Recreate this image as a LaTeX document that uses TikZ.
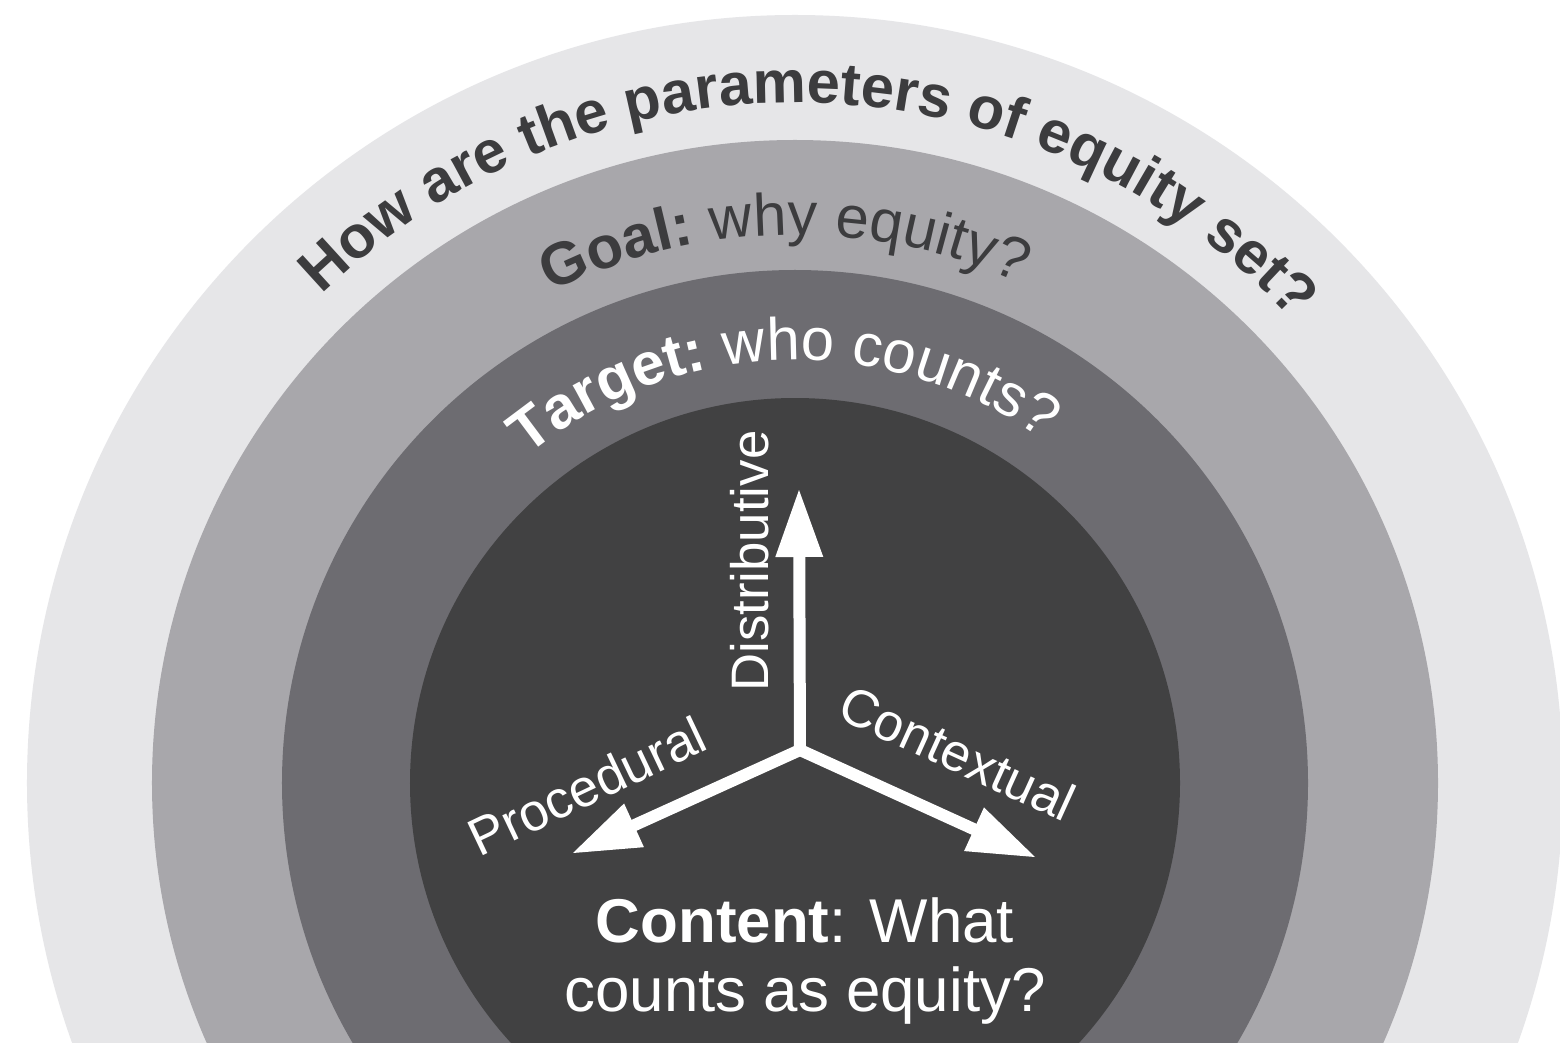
\documentclass[tikz,border=0pt]{standalone}
\usepackage{fontspec}
\setmainfont{Liberation Sans}
\usetikzlibrary{arrows.meta, positioning, decorations.text}
\definecolor{ringout}{HTML}{E6E6E8}
\definecolor{ringgoal}{HTML}{A8A7AB}
\definecolor{ringtarget}{HTML}{6D6C71}
\definecolor{ringcore}{HTML}{414142}
\definecolor{inkdark}{HTML}{3C3C3E}

\begin{document}
\begin{tikzpicture}[
  ring/.style={circle,draw=none,inner sep=0pt,outer sep=0pt},
  axis/.style={color=white,line width=0.12cm,line cap=round,-{Triangle[length=0.67cm,width=0.48cm,line width=0pt,fill=white]}},
  axislabel/.style={text=white,inner sep=0pt,font=\fontsize{15}{18}\selectfont},
  arctext/.style={decorate,decoration={text along path,text align=center,text color=#1}}
]
\useasboundingbox (-7.95,-2.59) rectangle (7.65,7.83);
\fill[white] (-7.95,-2.59) rectangle (7.65,7.83);
\clip (-7.95,-2.59) rectangle (7.65,7.83);
% rings
\node[ring,fill=ringout,minimum size=15.36cm] (outer) at (0,0) {};
\node[ring,fill=ringgoal,minimum size=12.86cm] (goal) at (0,0) {};
\node[ring,fill=ringtarget,minimum size=10.26cm] (target) at (0,0) {};
\node[ring,fill=ringcore,minimum size=7.70cm] (core) at (0,0) {};
% ring titles
\path[arctext=inkdark,decoration={text={|\fontsize{17}{20}\selectfont\bfseries|How are the parameters of equity set?}}]
  (178.5:6.80) arc[start angle=178.5,end angle=-1.5,radius=6.80];
\path[arctext=inkdark,decoration={text={|\fontsize{17}{20}\selectfont\bfseries|Goal:|\fontsize{17}{20}\selectfont\mdseries| why equity?}}]
  (181.1:5.48) arc[start angle=181.1,end angle=1.1,radius=5.48];
\path[arctext=white,decoration={text={|\fontsize{17}{20}\selectfont\bfseries|Target:|\fontsize{17}{20}\selectfont\mdseries| who counts?}}]
  (181.7:4.23) arc[start angle=181.7,end angle=1.7,radius=4.23];
% axes
\coordinate (hub) at (0.05,0.33);
\coordinate (distTip) at (0.04,2.93);
\coordinate (procTip) at (-2.22,-0.70);
\coordinate (ctxTip) at (2.40,-0.74);
\draw[axis] (hub) -- (distTip);
\draw[axis] (hub) -- (procTip);
\draw[axis] (hub) -- (ctxTip);
\node[axislabel,rotate=90,anchor=base] (distLbl) at (-0.27,2.22) {Distributive};
\node[axislabel,rotate=25.4,anchor=base] (procLbl) at (-2.00,-0.20) {Procedural};
\node[axislabel,rotate=-24.5,anchor=base] (ctxLbl) at (1.55,0.13) {Contextual};
% core question
\node[text=white,align=center,inner sep=0pt,font=\fontsize{17.6}{19.9}\selectfont] (content) at (0.10,-1.78)
  {\textbf{Content}: What\\counts as equity?};
\end{tikzpicture}
\end{document}
